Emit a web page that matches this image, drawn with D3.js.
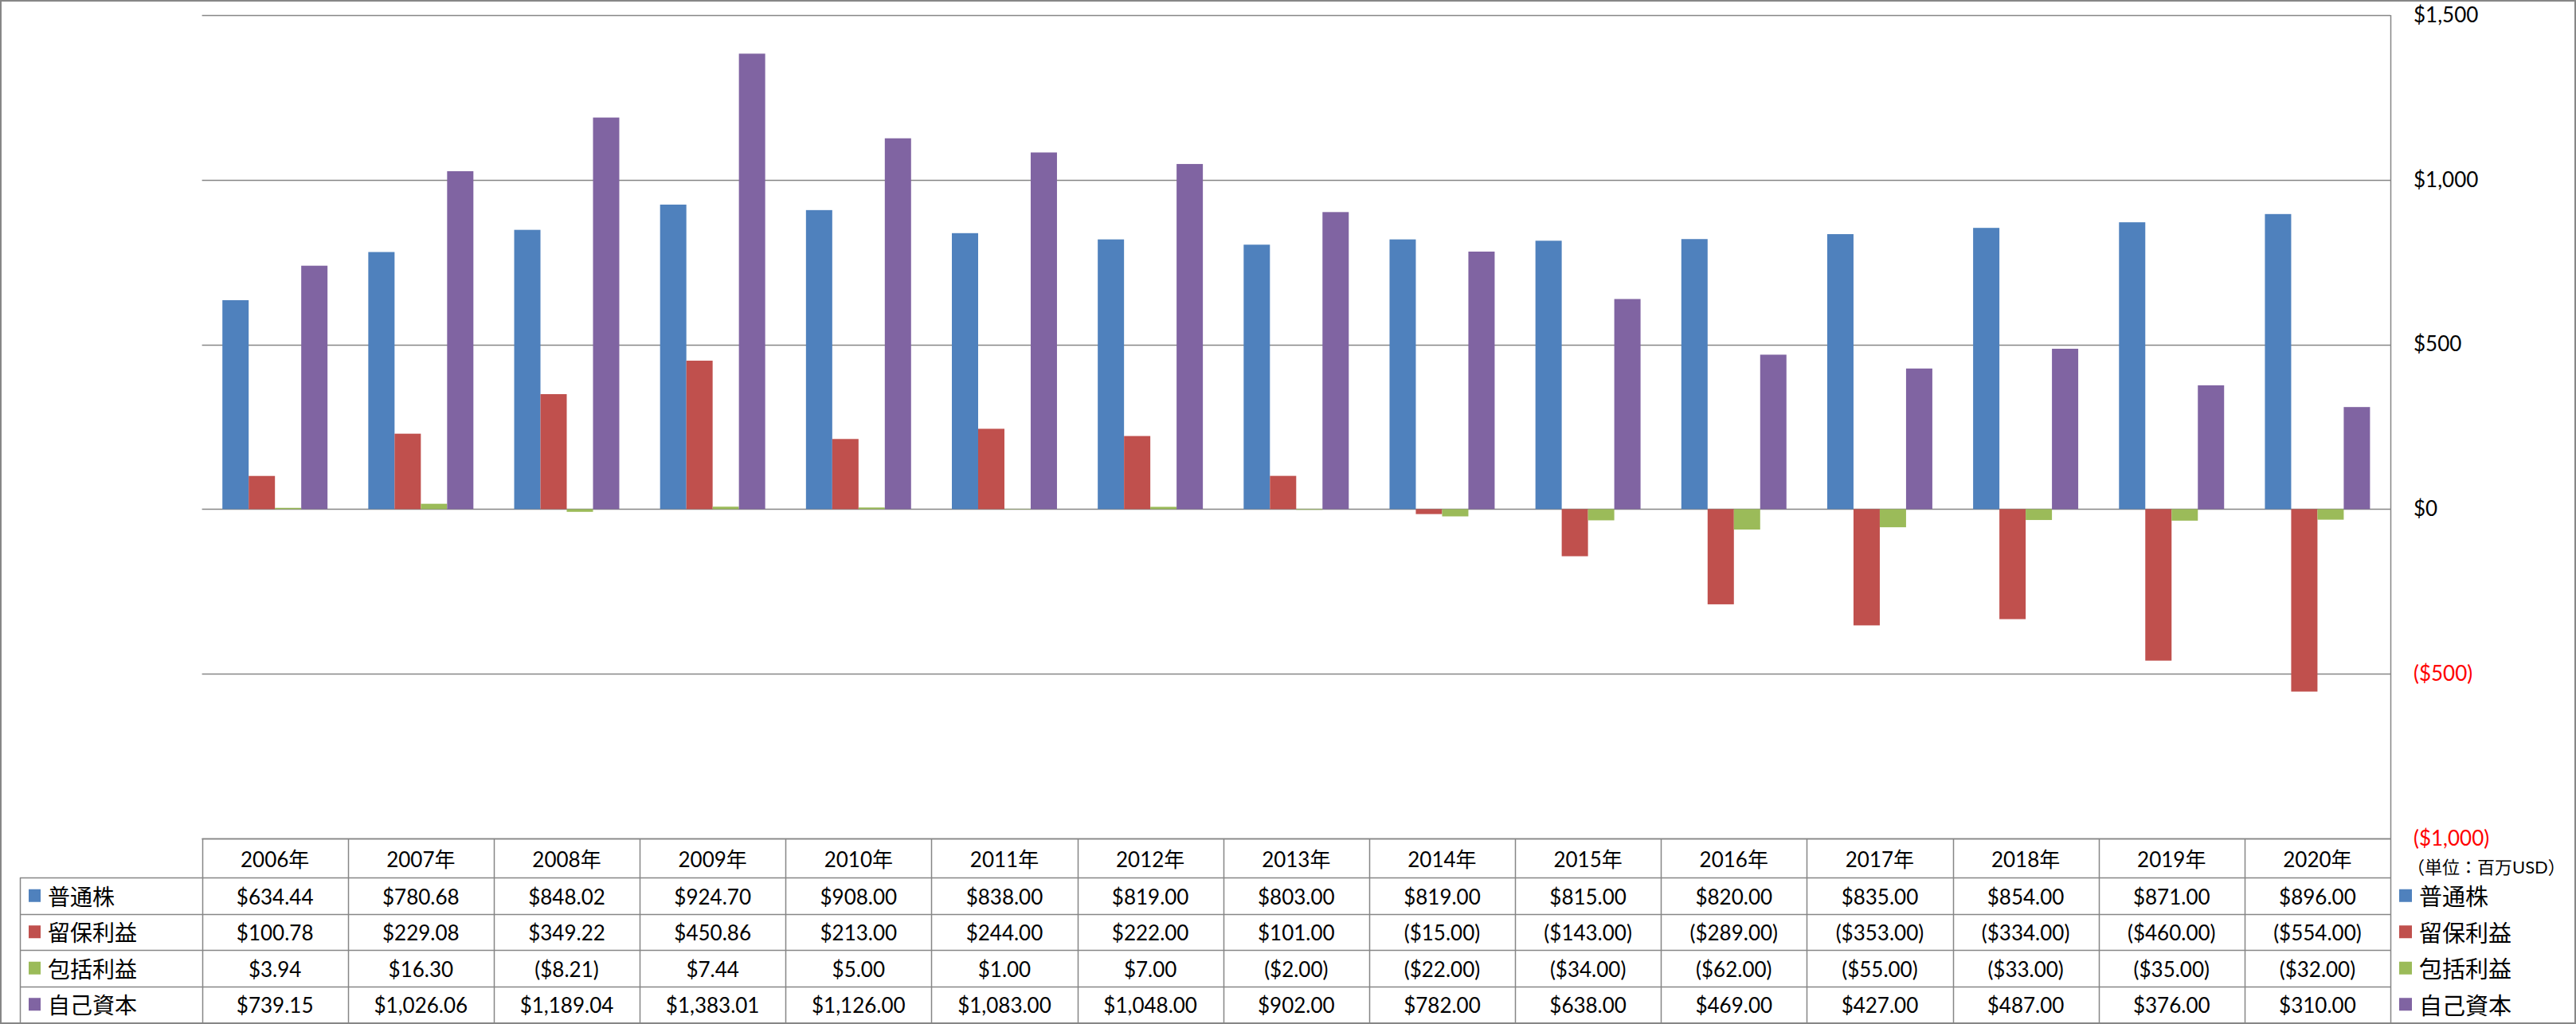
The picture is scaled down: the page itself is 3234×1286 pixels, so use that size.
<!DOCTYPE html>
<html>
<head>
<meta charset="utf-8">
<script src="https://cdn.jsdelivr.net/npm/d3@7"></script>
<style>
  body { margin: 0; background: #fff; }
  svg { display: block; }
  text { font-family: Lato, "Noto Sans CJK JP", sans-serif; }
</style>
</head>
<body>
<svg id="chart" width="3234" height="1286"></svg>
<script>
const years = ["2006年","2007年","2008年","2009年","2010年","2011年","2012年","2013年","2014年","2015年","2016年","2017年","2018年","2019年","2020年"];
const seriesNames = ["普通株","留保利益","包括利益","自己資本"];
const seriesColors = ["#4F81BD","#C0504D","#9BBB59","#8064A2"];
const commonStock = [634.44,780.68,848.02,924.70,908.00,838.00,819.00,803.00,819.00,815.00,820.00,835.00,854.00,871.00,896.00];
const retainedEarnings = [100.78,229.08,349.22,450.86,213.00,244.00,222.00,101.00,-15.00,-143.00,-289.00,-353.00,-334.00,-460.00,-554.00];
const comprehensiveIncome = [3.94,16.30,-8.21,7.44,5.00,1.00,7.00,-2.00,-22.00,-34.00,-62.00,-55.00,-33.00,-35.00,-32.00];
const equity = [739.15,1026.06,1189.04,1383.01,1126.00,1083.00,1048.00,902.00,782.00,638.00,469.00,427.00,487.00,376.00,310.00];
const yTicks = [-1000,-500,0,500,1000,1500];
const unitLabel = "（単位：百万USD）";

const seriesValues = [commonStock, retainedEarnings, comprehensiveIncome, equity];

const svg = d3.select("#chart");
const W = 3234, H = 1286;
const plot = {left: 253.6, right: 3001, top: 19, bottom: 1053};
const tableLeft = 25, tableBottom = 1284;
const gridColor = "#868686";

svg.append("rect").attr("x",0).attr("y",0).attr("width",W).attr("height",H).attr("fill","#fff");

const x0 = d3.scaleBand().domain(years).range([plot.left, plot.right]).paddingInner(0).paddingOuter(0);
const x1 = d3.scaleBand().domain(seriesNames).range([0, x0.bandwidth()]).paddingInner(0).paddingOuter(0.776);
const y = d3.scaleLinear().domain([-1000,1500]).range([plot.bottom, plot.top]);

const money = v => {
  const s = "$" + d3.format(",.0f")(Math.abs(v));
  return v < 0 ? "(" + s + ")" : s;
};
const money2 = v => {
  const s = "$" + d3.format(",.2f")(Math.abs(v));
  return v < 0 ? "(" + s + ")" : s;
};

// gridlines
svg.append("g").selectAll("line").data(yTicks).join("line")
  .attr("x1", plot.left).attr("x2", plot.right)
  .attr("y1", d => Math.round(y(d)) + 0.5).attr("y2", d => Math.round(y(d)) + 0.5)
  .attr("stroke", gridColor).attr("stroke-width", 1.5);

// bars
const groups = svg.append("g").selectAll("g").data(years).join("g")
  .attr("transform", d => `translate(${x0(d)},0)`);
groups.selectAll("rect")
  .data((d, i) => seriesNames.map((s, k) => ({s, k, v: seriesValues[k][i]})))
  .join("rect")
  .attr("x", d => x1(d.s))
  .attr("width", x1.bandwidth())
  .attr("y", d => y(Math.max(0, d.v)))
  .attr("height", d => Math.abs(y(d.v) - y(0)))
  .attr("fill", d => seriesColors[d.k]);

// right axis
const axis = d3.axisRight(y).tickValues(yTicks).tickSize(0).tickPadding(29).tickFormat(money);
const ag = svg.append("g").attr("transform", `translate(${plot.right},0)`).call(axis);
ag.select(".domain").remove();
ag.selectAll("text")
  .attr("font-size", 26)
  .attr("font-family", "Lato, 'Noto Sans CJK JP', sans-serif")
  .attr("fill", d => d < 0 ? "#FF0000" : "#000");

svg.append("text").attr("x", 3022).attr("y", 1088)
  .attr("font-size", 22).attr("dominant-baseline", "central")
  .attr("font-family", "'Noto Sans CJK JP', sans-serif")
  .attr("fill", "#000").text(unitLabel);

// table
const headerTop = plot.bottom, headerBottom = 1102;
const rowY = d3.scaleBand().domain(seriesNames).range([headerBottom, tableBottom]).padding(0);
const tg = svg.append("g");
// horizontal lines
tg.append("line").attr("x1", plot.left).attr("x2", plot.right).attr("y1", headerTop+0.5).attr("y2", headerTop+0.5)
  .attr("stroke", gridColor).attr("stroke-width", 1.5);
tg.selectAll(".hl").data(seriesNames).join("line").attr("class","hl")
  .attr("x1", tableLeft).attr("x2", plot.right)
  .attr("y1", d => Math.round(rowY(d)) + 0.5).attr("y2", d => Math.round(rowY(d)) + 0.5)
  .attr("stroke", gridColor).attr("stroke-width", 1.5);
// vertical lines
const vlines = years.map(d => x0(d)).concat([plot.right]);
tg.selectAll(".vl").data(vlines).join("line").attr("class","vl")
  .attr("x1", d => Math.round(d) + 0.5).attr("x2", d => Math.round(d) + 0.5)
  .attr("y1", (d, i) => i === vlines.length - 1 ? plot.top : headerTop).attr("y2", tableBottom)
  .attr("stroke", gridColor).attr("stroke-width", 1.5);
tg.append("line").attr("x1", tableLeft + 0.5).attr("x2", tableLeft + 0.5)
  .attr("y1", headerBottom).attr("y2", tableBottom).attr("stroke", gridColor).attr("stroke-width", 1.5);

// header texts
tg.selectAll(".yr").data(years).join("text").attr("class","yr")
  .attr("x", d => x0(d) + x0.bandwidth()/2).attr("y", (headerTop + headerBottom)/2 + 1)
  .attr("text-anchor", "middle").attr("dominant-baseline", "central")
  .attr("font-size", 26).attr("fill", "#000").text(d => d);

// value cells
seriesNames.forEach((s, k) => {
  tg.append("g").selectAll("text").data(seriesValues[k]).join("text")
    .attr("x", (d, i) => x0(years[i]) + x0.bandwidth()/2)
    .attr("y", rowY(s) + rowY.bandwidth()/2 + 1)
    .attr("text-anchor", "middle").attr("dominant-baseline", "central")
    .attr("font-size", 26).attr("fill", "#000").text(d => money2(d));
});

// legend keys in table
const lk = tg.append("g").selectAll("g").data(seriesNames).join("g")
  .attr("transform", d => `translate(0,${rowY(d) + rowY.bandwidth()/2})`);
lk.append("rect").attr("x", 36).attr("y", -8).attr("width", 15).attr("height", 16)
  .attr("fill", (d, i) => seriesColors[i]);
lk.append("text").attr("x", 60).attr("y", 1).attr("dominant-baseline", "central")
  .attr("font-size", 28).attr("font-family", "'Noto Sans CJK JP', sans-serif").attr("fill", "#000").text(d => d);

// right legend
const rl = svg.append("g").selectAll("g").data(seriesNames).join("g")
  .attr("transform", d => `translate(0,${rowY(d) + rowY.bandwidth()/2})`);
rl.append("rect").attr("x", 3012).attr("y", -8).attr("width", 16).attr("height", 16)
  .attr("fill", (d, i) => seriesColors[i]);
rl.append("text").attr("x", 3037).attr("y", 1).attr("dominant-baseline", "central")
  .attr("font-size", 29).attr("font-family", "'Noto Sans CJK JP', sans-serif").attr("fill", "#000").text(d => d);

// outer border
svg.append("rect").attr("x", 1).attr("y", 1).attr("width", W - 2).attr("height", H - 2)
  .attr("fill", "none").attr("stroke", gridColor).attr("stroke-width", 2);
</script>
</body>
</html>
